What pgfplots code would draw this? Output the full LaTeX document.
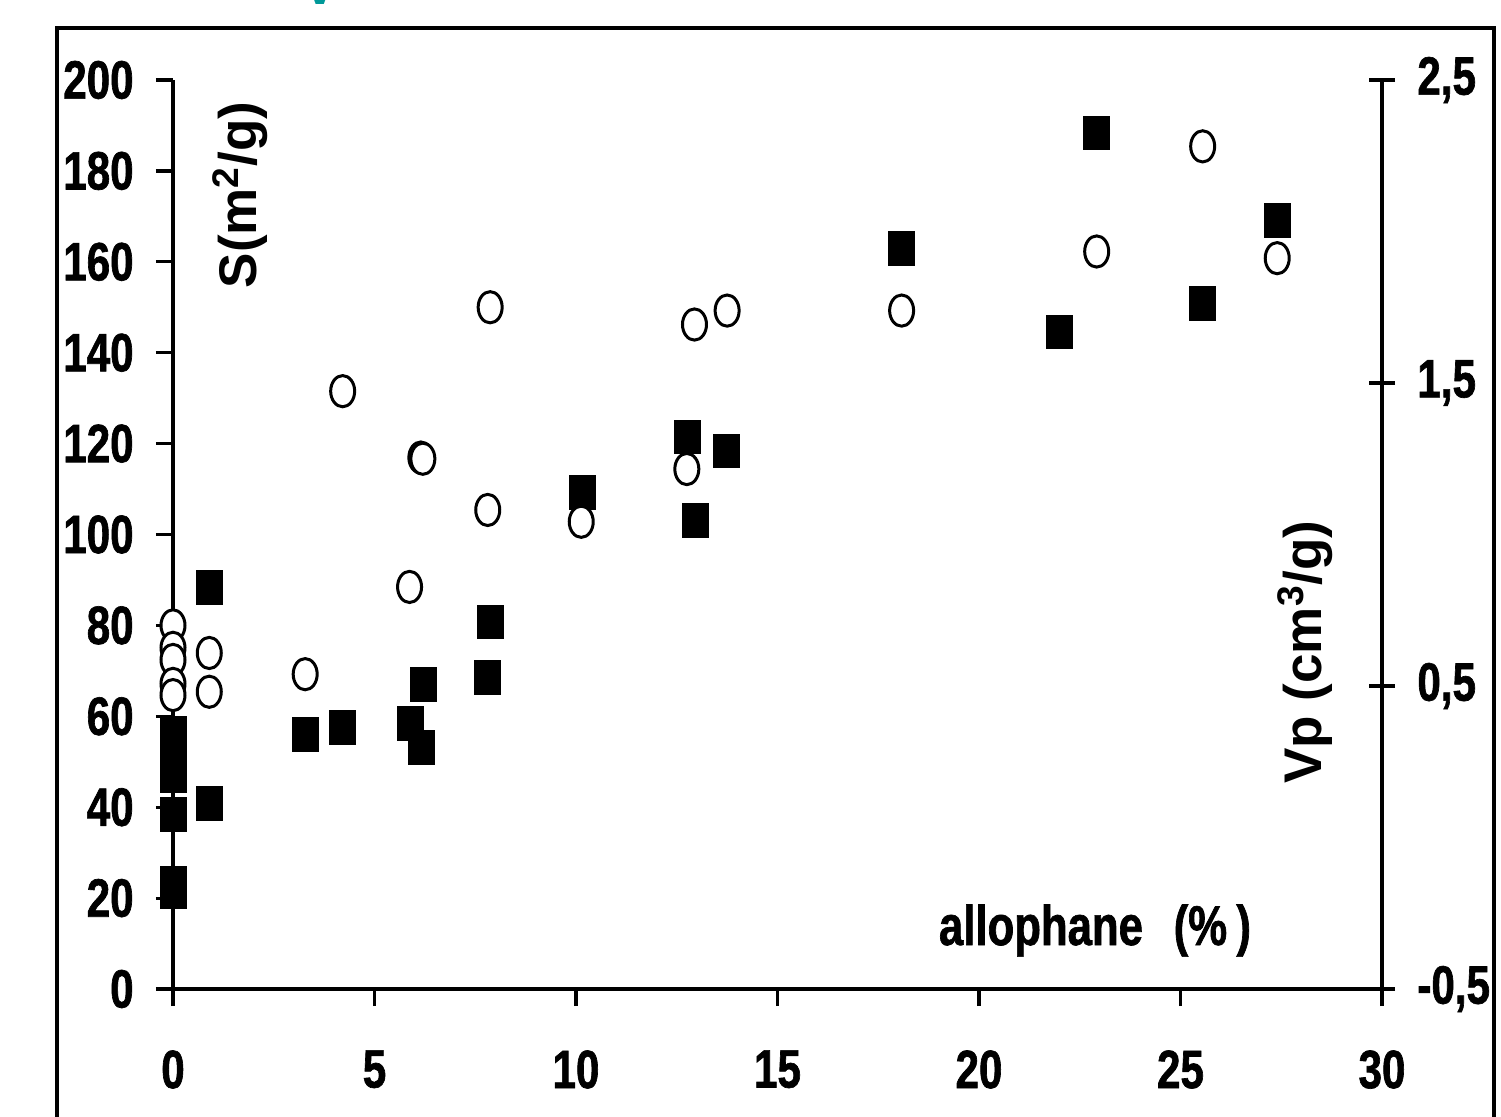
\documentclass[border=0pt]{standalone}
\usepackage{fontspec}
\setmainfont{Liberation Sans}
\newfontfamily\condfont{Liberation Sans}[FakeStretch=0.78, FakeBold=1.2]
\usepackage{pgfplots}
\pgfplotsset{compat=1.18}
\definecolor{tealc}{RGB}{0,153,153}
\begin{document}
\begin{tikzpicture}
\useasboundingbox (0,0) rectangle (750.5pt,558pt);
\draw[line width=1.6pt] (28.5pt,-5pt) -- (28.5pt,544pt) -- (747pt,544pt) -- (747pt,-5pt);
\node[text=tealc, anchor=base, inner sep=0pt, font=\bfseries\fontsize{28}{28}\selectfont] at (160pt,555.5pt) {V};
\begin{axis}[at={(86.5pt,63.5pt)}, anchor=south west, scale only axis,
  width=604.5pt, height=454.5pt,
  xmin=0, xmax=30, ymin=0, ymax=200,
  axis x line*=bottom, axis y line*=left,
  axis line style={-, line width=1.6pt},
  tick style={line width=1.6pt, black},
  tick align=outside, major tick length=8.5pt,
  xtick={0,5,...,30}, ytick={0,20,...,200}, minor tick num=0,
  clip=false,
  /pgf/number format/assume math mode=true,
  tick label style={font=\condfont\bfseries\fontsize{27}{27}\selectfont, inner sep=0pt},
  xticklabel style={anchor=north, yshift=-22pt},
  yticklabel style={anchor=east, xshift=-11pt},
]
\addplot[only marks, mark=square*, mark size=6.5pt,
  mark options={yscale=1.3, fill=black, draw=black, line width=0.3pt}] coordinates {
(0.9,88.4) (0.9,40.8) (0,56.3) (0,51.7) (0,46.9) (0,38.5) (0,23.2) (0,21.5)
(3.28,56.1) (4.21,57.6) (5.88,58.5) (6.15,53.1) (6.21,67.0) (7.81,68.5) (7.87,80.8)
(10.15,109.3) (12.75,121.5) (13.74,118.4) (12.95,103.1) (18.08,163.0) (21.99,144.6)
(22.92,188.4) (25.53,150.8) (27.41,169.2)
};
\end{axis}
\begin{axis}[at={(86.5pt,63.5pt)}, anchor=south west, scale only axis,
  width=604.5pt, height=454.5pt,
  xmin=0, xmax=30, ymin=-0.5, ymax=2.5,
  axis x line=none, axis y line*=right,
  axis line style={-, line width=1.6pt},
  tick style={line width=1.6pt, black},
  tick align=center, major tick length=13pt,
  ytick={-0.5,0.5,1.5,2.5}, yticklabels={{-0,5},{0,5},{1,5},{2,5}},
  minor tick num=0,
  clip=false,
  tick label style={font=\condfont\bfseries\fontsize{27}{27}\selectfont, inner sep=0pt},
  yticklabel style={anchor=west, xshift=11pt},
]
\addplot[only marks, mark=*, mark size=6pt,
  mark options={yscale=1.3, fill=white, draw=black, line width=1.5pt}] coordinates {
(0,0.700) (0,0.626) (0,0.586) (0,0.507) (0,0.470) (0.9,0.609) (0.9,0.481)
(3.28,0.539) (4.21,1.473) (6.15,1.254) (6.2,1.250) (5.87,0.827) (7.81,1.081)
(7.87,1.750) (10.13,1.042) (12.75,1.216) (12.94,1.693) (13.75,1.739) (18.08,1.739)
(22.92,1.934) (25.55,2.281) (27.4,1.912)
};
\end{axis}
\node[rotate=90, inner sep=0pt, font=\bfseries\fontsize{26.5}{26.5}\selectfont] at (120pt,460.5pt) {S(m\textsuperscript{2}/g)};
\node[rotate=90, inner sep=0pt, font=\bfseries\fontsize{26.5}{26.5}\selectfont] at (652.5pt,232pt) {Vp (cm\textsuperscript{3}/g)};
\node[anchor=base, inner sep=0pt, font=\condfont\bfseries\fontsize{28}{28}\selectfont] at (547.5pt,85.5pt) {allophane\hspace{0.55em}(\%\,)};
\end{tikzpicture}
\end{document}
